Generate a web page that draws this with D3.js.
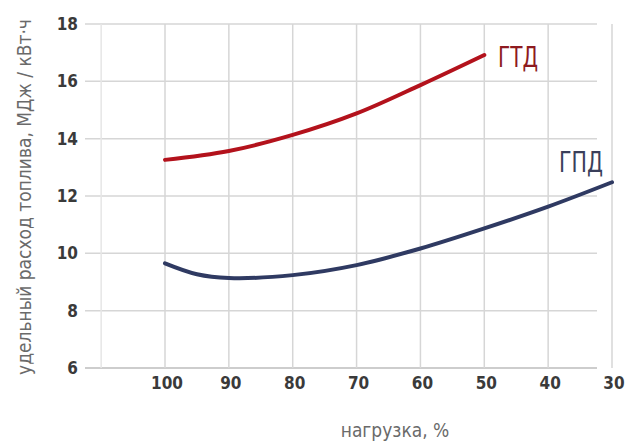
<!DOCTYPE html>
<html><head><meta charset="utf-8">
<script src="https://cdn.jsdelivr.net/npm/d3@7"></script>
<style>
body{margin:0;background:#fff;}
text{font-family:"DejaVu Sans Condensed","Liberation Sans Narrow",sans-serif;}
</style></head>
<body><svg id="c" width="625" height="441"></svg>
<script>
const gtdLoads = [100, 90, 80, 70, 60, 50];
const gtd = [13.26, 13.57, 14.13, 14.88, 15.87, 16.92];
const gpdLoads = [100, 95, 90, 80, 70, 60, 50, 40, 30];
const gpd = [9.65, 9.27, 9.14, 9.24, 9.59, 10.17, 10.87, 11.63, 12.48];
const xTicks = [100, 90, 80, 70, 60, 50, 40, 30];
const xGrid = [110, 100, 90, 80, 70, 60, 50, 40, 30];
const yTicks = [6, 8, 10, 12, 14, 16, 18];
const seriesNames = ["ГТД", "ГПД"];
const yTitle = "удельный расход топлива, МДж / кВт·ч";
const xTitle = "нагрузка, %";

const svg = d3.select("#c");
const x = d3.scaleLinear().domain([100, 30]).range([165, 612]);
const y = d3.scaleLinear().domain([6, 18]).range([368, 24]);

// grid
svg.append("g").selectAll("line").data(yTicks).join("line")
  .attr("x1", 85).attr("x2", 597)
  .attr("y1", d => y(d)).attr("y2", d => y(d))
  .attr("stroke", d => d === 6 ? "#bdbdbd" : "#d6d6d6").attr("stroke-width", 1.5);
svg.append("g").selectAll("line").data(xGrid).join("line")
  .attr("x1", d => x(d)).attr("x2", d => x(d))
  .attr("y1", y(18)).attr("y2", y(6))
  .attr("stroke", d => d === 110 ? "#e6e6e6" : "#d6d6d6").attr("stroke-width", 1.5);

// y tick labels
svg.append("g").selectAll("text").data(yTicks).join("text")
  .attr("x", 78).attr("y", d => y(d)).attr("dy", "0.36em")
  .attr("text-anchor", "end").attr("font-size", 17).attr("font-weight", "bold")
  .attr("fill", "#3a3a3a").text(d => d);

// x tick labels
svg.append("g").selectAll("text").data(xTicks).join("text")
  .attr("x", d => x(d) + 2).attr("y", 389)
  .attr("text-anchor", "middle").attr("font-size", 17).attr("font-weight", "bold")
  .attr("fill", "#3a3a3a").text(d => d);

// titles
svg.append("text").attr("transform", "translate(31,197) rotate(-90)")
  .attr("text-anchor", "middle").attr("font-size", 19).attr("fill", "#6a6a6a").text(yTitle);
svg.append("text").attr("x", 395).attr("y", 437)
  .attr("text-anchor", "middle").attr("font-size", 19).attr("fill", "#6a6a6a").text(xTitle);

// lines
const line = d3.line().x(d => x(d[0])).y(d => y(d[1])).curve(d3.curveCatmullRom.alpha(0.5));
const colors = ["#b3121c", "#2f3a62"];
[[gtdLoads, gtd], [gpdLoads, gpd]].forEach(([ls, s], i) => {
  svg.append("path").datum(ls.map((l, j) => [l, s[j]]))
    .attr("d", line).attr("fill", "none").attr("stroke", colors[i])
    .attr("stroke-width", 4).attr("stroke-linecap", "round");
});

// series labels
svg.append("text").attr("x", 498).attr("y", 67).attr("font-size", 28)
  .attr("textLength", 40).attr("lengthAdjust", "spacingAndGlyphs")
  .attr("fill", "#8e1a20").text(seriesNames[0]);
svg.append("text").attr("x", 559).attr("y", 172).attr("font-size", 28)
  .attr("textLength", 44).attr("lengthAdjust", "spacingAndGlyphs")
  .attr("fill", "#3a3f5a").text(seriesNames[1]);
</script></body></html>
